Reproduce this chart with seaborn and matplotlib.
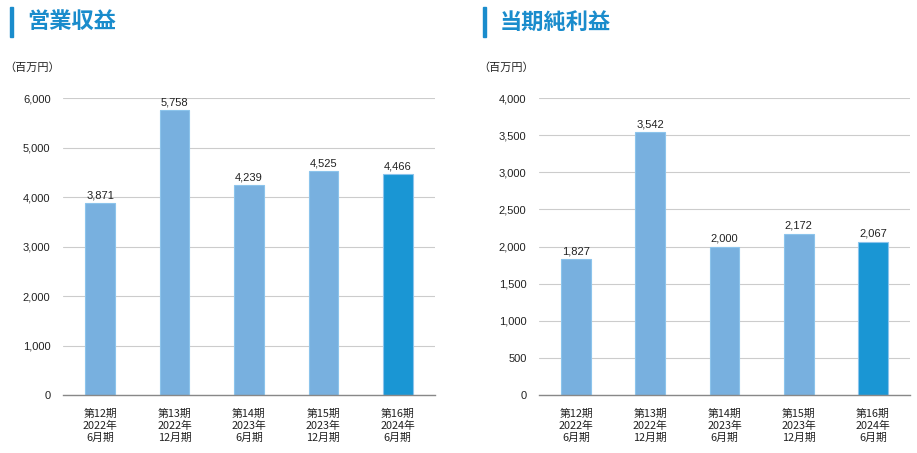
import matplotlib
matplotlib.use("Agg")
import matplotlib.pyplot as plt
import seaborn as sns
import pandas as pd
from matplotlib.patches import Rectangle

sns.set_theme(style="white")
plt.rcParams['font.family'] = ['Liberation Sans', 'Noto Sans CJK JP', 'DejaVu Sans']

categories = ["第12期\n2022年\n6月期", "第13期\n2022年\n12月期", "第14期\n2023年\n6月期",
              "第15期\n2023年\n12月期", "第16期\n2024年\n6月期"]
revenue = [3871, 5758, 4239, 4525, 4466]
net_income = [1827, 3542, 2000, 2172, 2067]
titles = ["営業収益", "当期純利益"]
unit = "（百万円）"
rev_ticks = [0, 1000, 2000, 3000, 4000, 5000, 6000]
ni_ticks = [0, 500, 1000, 1500, 2000, 2500, 3000, 3500, 4000]

LIGHT = "#78b0df"
DARK = "#1a96d4"
TITLE_C = "#1a8ccc"

W, H = 917, 453
fig = plt.figure(figsize=(W / 100, H / 100), dpi=100)

def px_axes(x0, x1, ytop, ybot):
    return fig.add_axes([x0 / W, 1 - ybot / H, (x1 - x0) / W, (ybot - ytop) / H])

def draw(ax, values, ticks, title, tx, ux):
    df = pd.DataFrame({"cat": categories, "val": values,
                       "grp": ["a"] * 4 + ["b"]})
    sns.barplot(data=df, x="cat", y="val", hue="grp", palette={"a": LIGHT, "b": DARK},
                width=0.4, dodge=False, legend=False, ax=ax, saturation=1,
                edgecolor="#8cc4ec", linewidth=0.8)
    ax.set_ylim(0, ticks[-1])
    ax.set_xlim(-0.5, 4.5)
    ax.set_yticks(ticks)
    ax.set_yticklabels([f"{t:,}" for t in ticks], fontsize=8, color="#222222")
    ax.tick_params(axis="y", length=0, pad=9)
    ax.tick_params(axis="x", length=0, pad=10, labelsize=8, labelcolor="#222222")
    for lbl in ax.get_xticklabels():
        lbl.set_linespacing(1.25)
        lbl.set_family(['Noto Sans CJK JP', 'DejaVu Sans'])
        lbl.set_fontsize(7.8)
    ax.yaxis.grid(True, color="#cccccc", linewidth=0.8)
    ax.set_axisbelow(True)
    for s in ["top", "right", "left"]:
        ax.spines[s].set_visible(False)
    ax.spines["bottom"].set_color("#888888")
    ax.spines["bottom"].set_linewidth(1.0)
    ax.set_xlabel("")
    ax.set_ylabel("")
    for i, v in enumerate(values):
        ax.annotate(f"{v:,}", (i, v), xytext=(0, 2), textcoords="offset points",
                    ha="center", va="bottom", fontsize=8, color="#222222")
    # title bar and text
    fig.patches.append(Rectangle(((tx - 17) / W, 1 - 37 / H), 3 / W, 30 / H,
                                 transform=fig.transFigure, color=TITLE_C))
    fig.text(tx / W, 1 - 22 / H, title, fontsize=16, fontweight="bold",
             color=TITLE_C, va="center", ha="left",
             family=['Noto Sans CJK JP', 'DejaVu Sans'])
    fig.text(ux / W, 1 - 68 / H, unit, fontsize=8, color="#222222",
             va="center", ha="left", family=['Noto Sans CJK JP', 'DejaVu Sans'])

ax1 = px_axes(63, 435, 98, 395)
draw(ax1, revenue, rev_ticks, titles[0], 27, 4)
ax2 = px_axes(539, 910, 98, 395)
draw(ax2, net_income, ni_ticks, titles[1], 500, 478)

fig.savefig("out.png", dpi=100)
